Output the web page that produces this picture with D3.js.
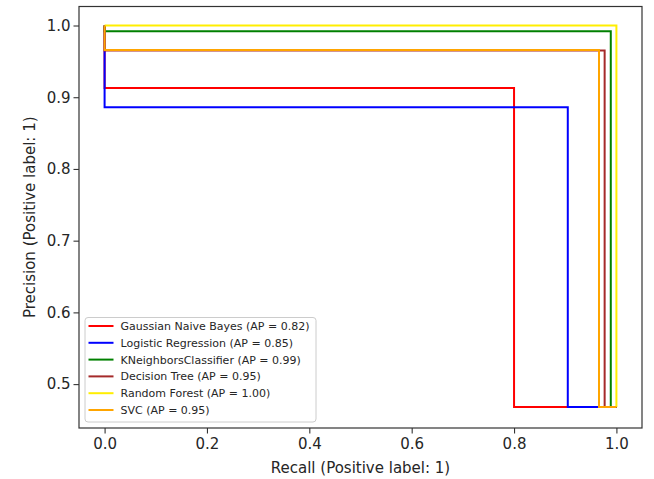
<!DOCTYPE html>
<html>
<head>
<meta charset="utf-8">
<script src="https://cdn.jsdelivr.net/npm/d3@7"></script>
<style>
  html, body { margin: 0; padding: 0; background: #fff; }
  svg { display: block; font-family: "DejaVu Sans", sans-serif; }
</style>
</head>
<body>
<svg id="chart" width="654" height="479"></svg>
<script>
// Precision-recall curves for six classifiers (step curves, recall descending)
const models = ["Gaussian Naive Bayes", "Logistic Regression", "KNeighborsClassifier",
                "Decision Tree", "Random Forest", "SVC"];
const apScores = [0.82, 0.85, 0.99, 0.95, 1.00, 0.95];
const colors = ["red", "blue", "green", "brown", "#ffee00", "orange"];

// Each curve: recall and precision points, ordered as returned by the PR curve
const recallPts = [
  [1, 0.800, 0],
  [1, 0.905, 0],
  [1, 0.989, 0],
  [1, 0.977, 0],
  [1, 1.000, 0],
  [1, 0.966, 0]
];
const precisionPts = [
  [0.468, 0.913, 1],
  [0.468, 0.886, 1],
  [0.468, 0.992, 1],
  [0.468, 0.965, 1],
  [0.468, 1.000, 1],
  [0.468, 0.966, 1]
];

const xTicks = [0.0, 0.2, 0.4, 0.6, 0.8, 1.0];
const yTicks = [0.5, 0.6, 0.7, 0.8, 0.9, 1.0];
const xDomain = [-0.05, 1.05];
const yDomain = [0.4388, 1.0265];

const svg = d3.select("#chart");
const plot = { left: 79, right: 642, top: 6.5, bottom: 428 };

const x = d3.scaleLinear().domain(xDomain).range([plot.left, plot.right]);
const y = d3.scaleLinear().domain(yDomain).range([plot.bottom, plot.top]);

const textColor = "#262626";

// Axes
const xAxis = svg.append("g")
  .attr("transform", `translate(0,${plot.bottom})`)
  .call(d3.axisBottom(x).tickValues(xTicks).tickFormat(d3.format(".1f")).tickSize(5.5).tickPadding(5));
const yAxis = svg.append("g")
  .attr("transform", `translate(${plot.left},0)`)
  .call(d3.axisLeft(y).tickValues(yTicks).tickFormat(d3.format(".1f")).tickSize(5.5).tickPadding(3));

[xAxis, yAxis].forEach(g => {
  g.select(".domain").remove();
  g.selectAll(".tick line").attr("stroke", "#333").attr("stroke-width", 1.1);
  g.selectAll(".tick text")
    .attr("fill", textColor)
    .style("font-size", "15px")
    .style("font-family", "'DejaVu Sans', sans-serif");
});

// Curves, drawn in steps-post style
const line = d3.line()
  .x(d => x(d[0]))
  .y(d => y(d[1]))
  .curve(d3.curveStepAfter);

models.forEach((name, i) => {
  const pts = recallPts[i].map((r, k) => [r, precisionPts[i][k]]);
  svg.append("path")
    .datum(pts)
    .attr("fill", "none")
    .attr("stroke", colors[i])
    .attr("stroke-width", 2)
    .attr("stroke-linejoin", "miter")
    .attr("d", line);
});

// Frame
svg.append("rect")
  .attr("x", plot.left).attr("y", plot.top)
  .attr("width", plot.right - plot.left).attr("height", plot.bottom - plot.top)
  .attr("fill", "none").attr("stroke", "#333").attr("stroke-width", 1.2);

// Axis labels
svg.append("text")
  .attr("x", (plot.left + plot.right) / 2).attr("y", 473)
  .attr("text-anchor", "middle").attr("fill", textColor)
  .style("font-size", "15px")
  .text("Recall (Positive label: 1)");
svg.append("text")
  .attr("transform", `translate(35,${(plot.top + plot.bottom) / 2}) rotate(-90)`)
  .attr("text-anchor", "middle").attr("fill", textColor)
  .style("font-size", "15px")
  .text("Precision (Positive label: 1)");

// Legend
const legend = svg.append("g");
legend.append("rect")
  .attr("x", 85).attr("y", 317.5).attr("width", 231).attr("height", 104.5)
  .attr("rx", 3).attr("fill", "#fff").attr("fill-opacity", 0.8)
  .attr("stroke", "#cccccc").attr("stroke-width", 1);
models.forEach((name, i) => {
  const cy = 326 + i * 16.8;
  legend.append("line")
    .attr("x1", 88.5).attr("x2", 113.5).attr("y1", cy).attr("y2", cy)
    .attr("stroke", colors[i]).attr("stroke-width", 2);
  legend.append("text")
    .attr("x", 120.5).attr("y", cy).attr("dy", "0.36em")
    .attr("fill", textColor)
    .style("font-size", "11px")
    .text(`${name} (AP = ${apScores[i].toFixed(2)})`);
});
</script>
</body>
</html>
